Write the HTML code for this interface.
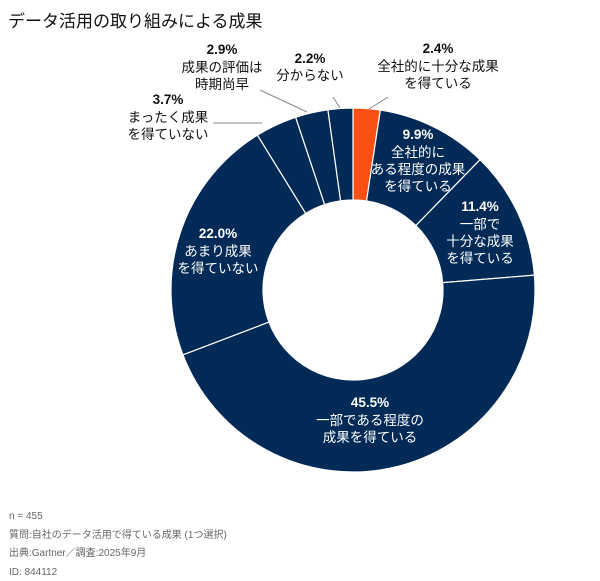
<!DOCTYPE html>
<html><head><meta charset="utf-8"><style>
body{margin:0;background:#fff;width:600px;height:581px;overflow:hidden;font-family:"Liberation Sans","Noto Sans CJK JP",sans-serif}
svg{position:absolute;left:0;top:0}
</style></head><body>
<svg width="600" height="581" xmlns="http://www.w3.org/2000/svg" font-family="Liberation Sans, Noto Sans CJK JP, sans-serif">
<text x="8" y="27" font-size="17" fill="#111">データ活用の取り組みによる成果</text>
<g id="pie"></g>
<g stroke="#888" stroke-width="1" fill="none">
<line x1="369" y1="109" x2="388" y2="97"/>
<line x1="340" y1="108" x2="333" y2="97"/>
<line x1="307" y1="112" x2="260" y2="90"/>
<line x1="213" y1="123" x2="262" y2="123"/>
</g>
<g font-size="13.5" fill="#111" text-anchor="middle">
<text x="438" y="53" font-weight="bold">2.4%</text>
<text x="438" y="71">全社的に十分な成果</text>
<text x="438" y="88">を得ている</text>
<text x="310" y="63" font-weight="bold">2.2%</text>
<text x="310" y="80">分からない</text>
<text x="222" y="54" font-weight="bold">2.9%</text>
<text x="222" y="72">成果の評価は</text>
<text x="222" y="89">時期尚早</text>
<text x="168" y="104" font-weight="bold">3.7%</text>
<text x="168" y="122">まったく成果</text>
<text x="168" y="139">を得ていない</text>
</g>
<g font-size="13.5" fill="#fff" text-anchor="middle">
<text x="418" y="139" font-weight="bold">9.9%</text>
<text x="418" y="157">全社的に</text>
<text x="418" y="174">ある程度の成果</text>
<text x="418" y="191">を得ている</text>
<text x="480" y="211" font-weight="bold">11.4%</text>
<text x="480" y="229">一部で</text>
<text x="480" y="246">十分な成果</text>
<text x="480" y="263">を得ている</text>
<text x="218" y="238" font-weight="bold">22.0%</text>
<text x="218" y="256">あまり成果</text>
<text x="218" y="273">を得ていない</text>
<text x="370" y="407" font-weight="bold">45.5%</text>
<text x="370" y="425">一部である程度の</text>
<text x="370" y="442">成果を得ている</text>
</g>
<g font-size="10" fill="#666">
<text x="9" y="519">n = 455</text>
<text x="9" y="538">質問:自社のデータ活用で得ている成果 (1つ選択)</text>
<text x="9" y="556">出典:Gartner／調査:2025年9月</text>
<text x="9" y="575">ID: 844112</text>
</g>
</svg>
<script>
var v=[2.4,9.9,11.4,45.5,22.0,3.7,2.9,2.2],cx=353,cy=290,R=182,r=90,a=0,s='';
function p(ang,rad){var t=ang/100*2*Math.PI;return [(cx+rad*Math.sin(t)).toFixed(2),(cy-rad*Math.cos(t)).toFixed(2)];}
v.forEach(function(x,i){var b=a+x,l=x>50?1:0,A=p(a,R),B=p(b,R),C=p(b,r),D=p(a,r);
s+='<path d="M'+A+' A'+R+' '+R+' 0 '+l+' 1 '+B+' L'+C+' A'+r+' '+r+' 0 '+l+' 0 '+D+' Z" fill="'+(i==0?'#fa5014':'#022a57')+'" stroke="#fff" stroke-width="1.2"/>';a=b;});
document.getElementById('pie').innerHTML=s;
</script>
</body></html>
